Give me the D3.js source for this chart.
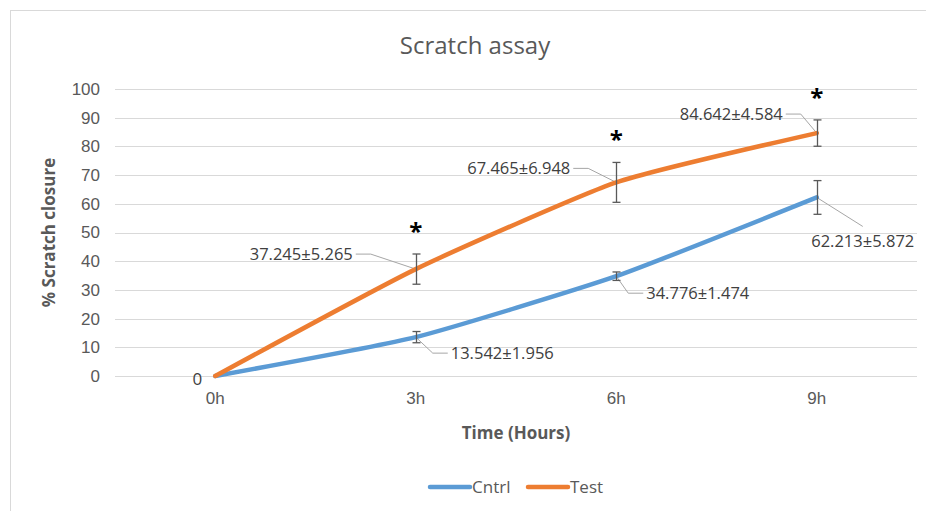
<!DOCTYPE html>
<html>
<head>
<meta charset="utf-8">
<script src="https://cdn.jsdelivr.net/npm/d3@7"></script>
<style>
  body { margin: 0; background: #fff; }
  svg { font-family: "Open Sans", "Noto Sans", sans-serif; }
  .tick text { fill: #595959; font-size: 17px; }
</style>
</head>
<body>
<svg id="chart" width="926" height="511"></svg>
<script>
// Chart data
const categories = ['0h', '3h', '6h', '9h'];
const yTicks = [0, 10, 20, 30, 40, 50, 60, 70, 80, 90, 100];
const cntrlValues = [0, 13.542, 34.776, 62.213];
const cntrlErrors = [0, 1.956, 1.474, 5.872];
const testValues = [0, 37.245, 67.465, 84.642];
const testErrors = [0, 5.265, 6.948, 4.584];
const significant = ['3h', '6h', '9h'];

// Label placement (offsets from the point, in px), leader line drawn to point
const cntrlLabelPos = [null, { dx: 17, dy: 16, side: 'right' }, { dx: 12, dy: 17, side: 'right' }, { dx: 46, dy: 29, side: 'below' }];
const testLabelPos = [null, { dx: -45, dy: -15, side: 'left' }, { dx: -28, dy: -14, side: 'left' }, { dx: -16, dy: -19, side: 'left' }];

const svg = d3.select('#chart');
const margin = { top: 89, right: 9, bottom: 135, left: 115 };
const width = 926 - margin.left - margin.right;
const height = 511 - margin.top - margin.bottom;

// Chart border
svg.append('rect')
    .attr('x', 10.5).attr('y', 10.5)
    .attr('width', 930).attr('height', 520)
    .attr('fill', 'none')
    .attr('stroke', '#d9d9d9');

// Title
svg.append('text')
    .attr('x', 475).attr('y', 54)
    .attr('text-anchor', 'middle')
    .attr('fill', '#595959')
    .style('font-size', '24px')
    .text('Scratch assay');

const g = svg.append('g').attr('transform', `translate(${margin.left},${margin.top})`);

const x = d3.scaleBand().domain(categories).range([0, width]);
const y = d3.scaleLinear().domain([0, 100]).range([height, 0]);
const cx = d => x(d) + x.bandwidth() / 2;

// Gridlines
g.append('g')
    .selectAll('line')
    .data(yTicks)
    .join('line')
    .attr('x1', 0).attr('x2', width)
    .attr('y1', d => Math.round(y(d)) + 0.5).attr('y2', d => Math.round(y(d)) + 0.5)
    .attr('stroke', '#d9d9d9');

// Y axis
const yAxis = g.append('g')
    .attr('transform', 'translate(-11,0)')
    .call(d3.axisLeft(y).tickValues(yTicks).tickSize(0).tickPadding(4));
yAxis.select('.domain').remove();

// X axis
const xAxis = g.append('g')
    .attr('transform', `translate(0,${height})`)
    .call(d3.axisBottom(x).tickSize(0).tickPadding(16));
xAxis.select('.domain').remove();

// Axis titles
svg.append('text')
    .attr('transform', `translate(55,${margin.top + height / 2}) rotate(-90)`)
    .attr('text-anchor', 'middle')
    .attr('fill', '#595959')
    .style('font-size', '17px')
    .style('font-weight', 'bold')
    .text('% Scratch closure');

svg.append('text')
    .attr('x', margin.left + width / 2).attr('y', 439)
    .attr('text-anchor', 'middle')
    .attr('fill', '#595959')
    .style('font-size', '17px')
    .style('font-weight', 'bold')
    .text('Time (Hours)');

const series = [
    { name: 'Cntrl', color: '#5b9bd5', values: cntrlValues, errors: cntrlErrors, labels: cntrlLabelPos },
    { name: 'Test', color: '#ed7d31', values: testValues, errors: testErrors, labels: testLabelPos }
];

const line = d3.line()
    .x((d, i) => cx(categories[i]))
    .y(d => y(d))
    .curve(d3.curveCardinal.tension(0.5));

// Leader lines (under series)
series.forEach(s => {
    s.values.forEach((v, i) => {
        const p = s.labels[i];
        if (!p) return;
        const px = cx(categories[i]), py = y(v);
        const ex = px + p.dx, ey = py + p.dy;
        let pts;
        if (p.side === 'right') pts = [[px, py], [ex, ey], [ex + 15, ey]];
        else if (p.side === 'left') pts = [[px, py], [ex, ey], [ex - 15, ey]];
        else pts = [[px, py], [ex, ey]];
        g.append('path')
            .attr('d', d3.line()(pts))
            .attr('fill', 'none')
            .attr('stroke', '#a6a6a6')
            .attr('stroke-width', 1);
    });
});

// Lines
series.forEach(s => {
    g.append('path')
        .datum(s.values)
        .attr('d', line)
        .attr('fill', 'none')
        .attr('stroke', s.color)
        .attr('stroke-width', 4.5)
        .attr('stroke-linecap', 'round');
});

// Error bars
series.forEach(s => {
    s.values.forEach((v, i) => {
        const e = s.errors[i];
        if (!e) return;
        const px = Math.round(cx(categories[i])) + 0.5;
        const eg = g.append('g').attr('stroke', '#595959').attr('stroke-width', 1.3);
        eg.append('line').attr('x1', px).attr('x2', px).attr('y1', y(v - e)).attr('y2', y(v + e));
        eg.append('line').attr('x1', px - 4).attr('x2', px + 4).attr('y1', y(v - e)).attr('y2', y(v - e));
        eg.append('line').attr('x1', px - 4).attr('x2', px + 4).attr('y1', y(v + e)).attr('y2', y(v + e));
    });
});

// Data labels
series.forEach(s => {
    s.values.forEach((v, i) => {
        const p = s.labels[i];
        const px = cx(categories[i]), py = y(v);
        if (!p) return;
        const ex = px + p.dx, ey = py + p.dy;
        let tx = ex, anchor = 'start', ty = ey + 6;
        if (p.side === 'right') { tx = ex + 18; anchor = 'start'; }
        else if (p.side === 'left') { tx = ex - 18; anchor = 'end'; }
        else { tx = ex; anchor = 'middle'; ty = ey + 21; }
        g.append('text')
            .attr('x', tx).attr('y', ty)
            .attr('text-anchor', anchor)
            .attr('fill', '#404040')
            .style('font-size', '16.5px')
            .text(`${v.toFixed(3)}±${s.errors[i].toFixed(3)}`);
    });
});

// Zero label at origin
g.append('text')
    .attr('x', cx(categories[0]) - 18).attr('y', y(0) + 9)
    .attr('text-anchor', 'middle')
    .attr('fill', '#404040')
    .style('font-size', '17px')
    .text(testValues[0]);

// Significance asterisks
g.selectAll('.star')
    .data(significant)
    .join('text')
    .attr('class', 'star')
    .attr('x', d => cx(d))
    .attr('y', d => {
        const i = categories.indexOf(d);
        return y(testValues[i] + testErrors[i]) - 14;
    })
    .attr('text-anchor', 'middle')
    .attr('fill', '#000')
    .style('font-size', '24px')
    .style('font-weight', 'bold')
    .text('*');

// Legend
const legend = svg.append('g').attr('transform', 'translate(430,487)');
series.forEach((s, i) => {
    const lg = legend.append('g').attr('transform', `translate(${i * 98},0)`);
    lg.append('line')
        .attr('x1', 0).attr('x2', 40)
        .attr('stroke', s.color).attr('stroke-width', 4.5)
        .attr('stroke-linecap', 'round');
    lg.append('text')
        .attr('x', 42).attr('y', 6)
        .attr('fill', '#595959')
        .style('font-size', '17px')
        .text(s.name);
});
</script>
</body>
</html>
